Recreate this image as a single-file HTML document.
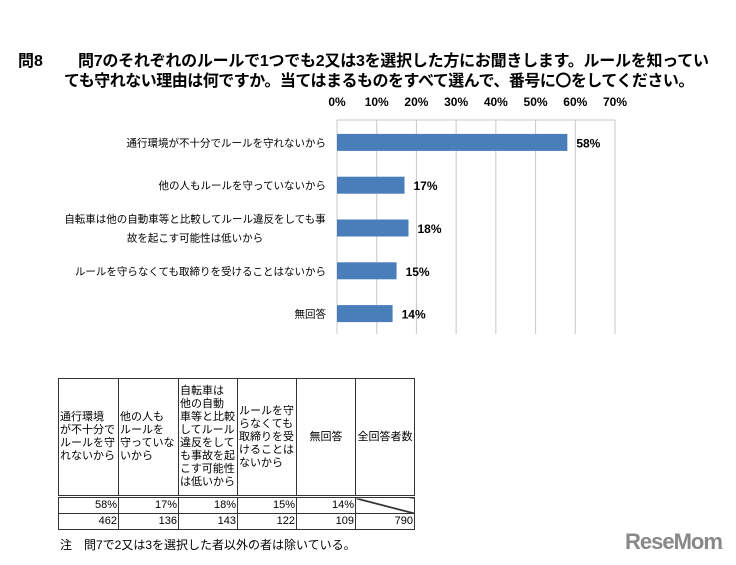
<!DOCTYPE html>
<html><head><meta charset="utf-8"><style>
body{margin:0;width:736px;height:565px;background:#fff;position:relative;overflow:hidden;font-family:"Liberation Sans","Noto Sans CJK JP",sans-serif;color:#000}
.t{position:absolute;white-space:nowrap}
table{position:absolute;left:58px;top:378px;border-collapse:collapse;font-size:11px;line-height:13px;table-layout:fixed;width:356px}
td{border:1px solid #333;padding:0 1px;vertical-align:middle;overflow:hidden;white-space:nowrap}
.h{height:116px;display:flex;align-items:center;overflow:hidden}
.r{height:15px;line-height:15px;overflow:hidden}
</style></head><body>
<div class="t" style="left:18px;top:47px;font-size:16px;font-weight:bold">問8</div>
<div class="t" style="left:78px;top:47px;font-size:16px;font-weight:bold;letter-spacing:-0.25px">問7のそれぞれのルールで1つでも2又は3を選択した方にお聞きします。ルールを知ってい</div>
<div class="t" style="left:64px;top:67px;font-size:16px;font-weight:bold;letter-spacing:-0.5px">ても守れない理由は何ですか。当てはまるものをすべて選んで、番号に〇をしてください。</div>
<svg id="chart" width="736" height="360" style="position:absolute;left:0;top:0"></svg>
<table>
<colgroup><col style="width:60px"><col style="width:60px"><col style="width:59px"><col style="width:59px"><col style="width:59px"><col style="width:59px"></colgroup>
<tr style="border-bottom:3px double #333">
<td><div class="h"><div>通行環境<br>が不十分で<br>ルールを守<br>れないから</div></div></td>
<td><div class="h"><div>他の人も<br>ルールを<br>守っていな<br>いから</div></div></td>
<td><div class="h"><div>自転車は<br>他の自動<br>車等と比較<br>してルール<br>違反をして<br>も事故を起<br>こす可能性<br>は低いから</div></div></td>
<td><div class="h"><div>ルールを守<br>らなくても<br>取締りを受<br>けることは<br>ないから</div></div></td>
<td><div class="h" style="justify-content:center">無回答</div></td>
<td><div class="h" style="justify-content:center">全回答者数</div></td></tr>
<tr style="text-align:right"><td><div class="r">58%</div></td><td><div class="r">17%</div></td><td><div class="r">18%</div></td><td><div class="r">15%</div></td><td><div class="r">14%</div></td><td style="background:linear-gradient(to bottom left,transparent 46%,#333 48%,#333 52%,transparent 54%)"><div class="r"></div></td></tr>
<tr style="text-align:right"><td><div class="r">462</div></td><td><div class="r">136</div></td><td><div class="r">143</div></td><td><div class="r">122</div></td><td><div class="r">109</div></td><td><div class="r">790</div></td></tr>
</table>
<div class="t" style="left:60px;top:536px;font-size:12px">注　問7で2又は3を選択した者以外の者は除いている。</div>
<div class="t" style="left:625px;top:529px;font-size:22px;font-weight:bold;color:#888;letter-spacing:-1px">ReseMom<span style="font-size:6px">.</span></div>
<script>
const categories=["通行環境が不十分でルールを守れないから","他の人もルールを守っていないから","自転車は他の自動車等と比較してルール違反をしても事|故を起こす可能性は低いから","ルールを守らなくても取締りを受けることはないから","無回答"];
const values=[58,17,18,15,14];
const ticks=[0,10,20,30,40,50,60,70];
const svg=document.getElementById('chart');const NS='http://www.w3.org/2000/svg';
const x0=337,x1=615,top0=120,bot=334;
const xs=v=>x0+(x1-x0)*v/70;
const band=(bot-top0)/categories.length;
const yc=i=>top0+band*(i+0.5)+1;
function el(t,a,txt){const e=document.createElementNS(NS,t);for(const k in a)e.setAttribute(k,a[k]);if(txt!=null)e.textContent=txt;svg.appendChild(e);return e;}
ticks.forEach(t=>{
const g=el('line',{x1:xs(t),x2:xs(t),y1:top0,y2:bot,stroke:'#c8c8c8','stroke-width':1});


const l=el('text',{x:xs(t),y:106,'text-anchor':'middle','font-size':12,'font-weight':'bold'},t+'%');


});
el('line',{x1:x0,x2:x1,y1:top0,y2:top0,stroke:'#c8c8c8'});
categories.forEach((c,i)=>{
const y=yc(i);
const b=el('rect',{x:x0,y:y-8.5,width:xs(values[i])-x0,height:17,fill:'#4a7ebb'});


const v=el('text',{x:xs(values[i])+9,y:y+5,'font-size':12,'font-weight':'bold'},values[i]+'%');


const parts=c.split('|');
parts.forEach((p,j)=>{
const multi=parts.length>1;
const tx=el('text',{x:multi?195:326,y:y+4+(j-(parts.length-1)/2)*19,'text-anchor':multi?'middle':'end','font-size':10.5},p);


});
});
</script>
</body></html>
